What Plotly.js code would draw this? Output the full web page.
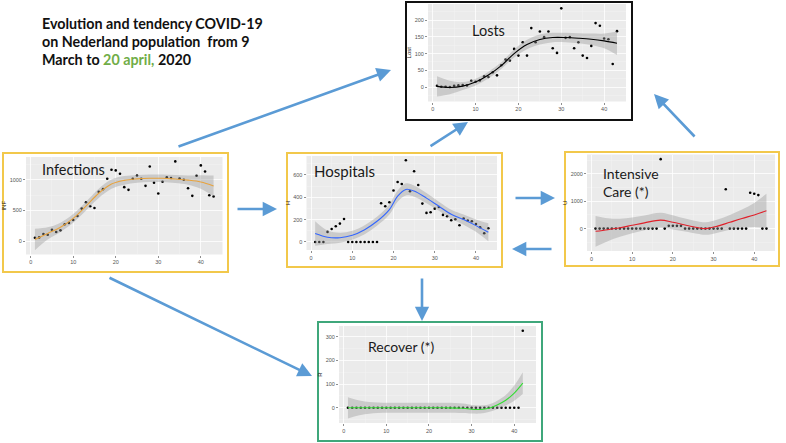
<!DOCTYPE html>
<html><head><meta charset="utf-8">
<script src="https://cdn.plot.ly/plotly-3.0.1.min.js"></script>
<style>html,body{margin:0;padding:0;background:#fff;} #chart{width:786px;height:443px;}</style>
</head><body><div id="chart"></div>
<script>
// ---------- DATA ----------
const days = [1,2,3,4,5,6,7,8,9,10,11,12,13,14,15,16,17,18,19,20,21,22,23,24,25,26,27,28,29,30,31,32,33,34,35,36,37,38,39,40,41,42,43];
const infections = [55,60,115,104,186,148,175,273,295,344,410,530,634,568,541,803,847,1016,1164,1153,1098,880,836,1016,1071,1016,901,1218,951,776,967,1040,1030,1300,1020,1000,863,738,1065,1235,1136,748,727];
const losts = [4,1,1,0,4,5,6,5,19,16,20,32,30,44,35,65,82,79,114,94,134,94,176,134,166,149,166,116,102,235,147,149,116,134,94,87,123,191,183,145,143,69,167];
const hospitals = [0,0,0,90,116,140,164,206,0,0,0,0,0,0,0,0,346,319,355,460,537,519,731,454,633,510,343,260,266,298,313,242,230,194,203,149,209,191,185,161,131,78,122];
const intensive = [0,0,0,0,0,0,0,0,0,0,0,0,0,0,0,0,2540,0,100,100,100,100,0,0,0,0,0,0,0,0,0,0,1440,0,0,0,0,0,1310,1275,1225,0,0];
const recoverDays = [1,2,3,4,5,6,7,8,9,10,11,12,13,14,15,16,17,18,19,20,21,22,23,24,25,26,27,28,29,30,31,32,33,34,35,36,37,38,39,40,41,42];
const recover = [0,0,0,0,0,0,0,0,0,0,0,0,0,0,0,0,0,0,0,0,0,0,0,0,0,0,0,0,0,0,0,0,0,0,0,0,0,0,0,0,0,325];

// smoothed trend (loess) and its confidence band
const infGrid = [1,4,7,10,13,16,19,22,25,28,31,34,37,40,43];
const infFit = [27,125,225,370,570,780,930,990,1015,1025,1025,1012,995,965,900];
const infLow = [-148,25,150,300,500,705,855,920,950,963,963,947,920,855,730];
const infHigh = [202,225,300,440,640,855,1005,1060,1080,1087,1087,1077,1070,1075,1070];

const lostGrid = [1,4,7,10,13,16,19,22,25,28,31,34,37,40,43];
const lostFit = [2,-1,3,15,36,64,100,127,142,148,148,146,143,138,131];
const lostLow = [-28,-21,-9,5,26,54,88,113,127,134,134,131,126,116,96];
const lostHigh = [32,19,15,25,46,74,112,141,157,162,162,161,160,160,166];

const hospGrid = [1,4,7,10,13,16,19,21,23,25,28,31,34,37,40,43];
const hospFit = [75,42,38,60,110,185,290,410,470,455,392,320,248,200,146,87];
const hospLow = [-35,-18,-7,20,70,145,245,360,415,405,347,280,208,155,91,7];
const hospHigh = [185,102,83,100,150,225,335,460,525,505,437,360,288,245,201,167];

const icGrid = [1,4,7,10,13,17,20,23,26,28,31,34,37,40,43];
const icFit = [-100,-40,30,120,210,310,230,130,40,0,90,230,370,500,650];
const icLow = [-660,-460,-300,-170,-60,40,-30,-110,-190,-230,-150,-40,40,60,30];
const icHigh = [460,380,360,410,480,580,490,370,270,230,330,500,700,940,1270];

const recGrid = [1,4,8,12,16,20,24,28,30,32,34,36,38,40,42];
const recFit = [0,0,0,0,0,0,0,-2,-6,-7,-2,12,32,62,104];
const recLow = [-45,-30,-22,-21,-21,-21,-21,-22,-24,-24,-18,-6,10,30,58];
const recHigh = [45,30,22,21,21,21,21,18,12,10,14,30,54,94,150];

const panelTitles = ['Infections','Losts','Hospitals','Intensive<br>Care (*)','Recover (*)'];
const yTitles = ['INF','Lost','H','U','R'];

// ---------- LAYOUT HELPERS ----------
const W = 786, H = 443;
const fx = p => p / W, fy = p => 1 - p / H;
const traces = [];
const layout = {
  width: W, height: H, margin: {l:0, r:0, t:0, b:0},
  paper_bgcolor: '#ffffff', plot_bgcolor: '#ebebeb',
  showlegend: false, shapes: [], annotations: [],
  font: {family: 'Liberation Sans, Arial, sans-serif'}
};

function addPanel(k, xs, ys, grid, low, high, fit, color, box, xr, yr, dy, ytitle) {
  const sx = k === 1 ? '' : String(k);
  const xa = 'x' + sx, ya = 'y' + sx;
  traces.push({x: xs, y: ys, xaxis: xa, yaxis: ya, type: 'scatter', mode: 'markers',
    marker: {color: '#000', size: 2.6}, hoverinfo: 'skip', cliponaxis: true});
  traces.push({x: grid, y: low, xaxis: xa, yaxis: ya, type: 'scatter', mode: 'lines',
    line: {width: 0, shape: 'spline'}, hoverinfo: 'skip'});
  traces.push({x: grid, y: high, xaxis: xa, yaxis: ya, type: 'scatter', mode: 'lines',
    fill: 'tonexty', fillcolor: 'rgba(153,153,153,0.4)', line: {width: 0, shape: 'spline'}, hoverinfo: 'skip'});
  traces.push({x: grid, y: fit, xaxis: xa, yaxis: ya, type: 'scatter', mode: 'lines',
    line: {color: color, width: 1.1, shape: 'spline'}, hoverinfo: 'skip'});
  const common = {showline: false, zeroline: false, ticks: 'outside', ticklen: 2, tickwidth: 0.6,
    tickcolor: '#444', tickfont: {size: 5.5, color: '#555'}, gridcolor: '#ffffff', gridwidth: 0.8,
    fixedrange: true, tickmode: 'linear', tick0: 0};
  layout['xaxis' + sx] = Object.assign({}, common, {domain: [fx(box[0]), fx(box[1])], range: xr,
    dtick: 10, anchor: ya, minor: {dtick: 5, showgrid: true, gridcolor: '#f6f6f6', gridwidth: 0.4}});
  layout['yaxis' + sx] = Object.assign({}, common, {domain: [fy(box[3]), fy(box[2])], range: yr,
    dtick: dy, anchor: xa, minor: {dtick: dy / 2, showgrid: true, gridcolor: '#f6f6f6', gridwidth: 0.4},
    title: {text: ytitle, font: {size: 6, color: '#222'}, standoff: 2}});
}

addPanel(1, days, infections, infGrid, infLow, infHigh, infFit, '#E8A33D', [26,222.5,157,254.5], [-1.1,45.1], [-219,1372], 500, yTitles[0]);
addPanel(2, days, losts, lostGrid, lostLow, lostHigh, lostFit, '#000000', [428,626,4,101.5], [-1.1,45.1], [-43,248], 50, yTitles[1]);
addPanel(3, days, hospitals, hospGrid, hospLow, hospHigh, hospFit, '#3366FF', [306.5,497,156,250], [-1.1,45.1], [-72,769], 200, yTitles[2]);
addPanel(4, days, intensive, icGrid, icLow, icHigh, icFit, '#E0202A', [587,775,154.5,251], [-1.1,45.1], [-820,2710], 1000, yTitles[3]);
addPanel(5, recoverDays, recover, recGrid, recLow, recHigh, recFit, '#33DD33', [339,536,326,423], [-1.1,45.1], [-64,345], 100, yTitles[4]);

// frames around each panel
function frame(b, color) {
  layout.shapes.push({type: 'rect', xref: 'paper', yref: 'paper', x0: fx(b[0]), x1: fx(b[1]),
    y0: fy(b[3]), y1: fy(b[2]), line: {color: color, width: 2}, fillcolor: 'rgba(0,0,0,0)'});
}
frame([406,632,2,120], '#111111');
frame([3,228,153,272], '#F2C84B');
frame([287,502,153,267], '#F2C84B');
frame([565,779,152,266], '#F2C84B');
frame([318,542,322,441], '#3FA77B');

// panel titles
function label(text, x, y, size, anchor) {
  layout.annotations.push({text: text, xref: 'paper', yref: 'paper', x: fx(x), y: fy(y),
    xanchor: anchor || 'center', yanchor: 'middle', showarrow: false, align: 'left',
    font: {family: 'Lato, sans-serif', size: size, color: '#1a1a1a'}});
}
label(panelTitles[0], 40, 169, 14.5, 'left');
label(panelTitles[1], 488, 31, 14.5);
label(panelTitles[2], 312, 171, 15, 'left');
label(panelTitles[3], 601, 182, 14, 'left');
label(panelTitles[4], 366, 346, 14, 'left');

// headline
function head(text, y) {
  layout.annotations.push({text: '<b>' + text + '</b>', xref: 'paper', yref: 'paper', x: fx(40), y: fy(y),
    xanchor: 'left', yanchor: 'middle', showarrow: false,
    font: {family: 'Lato, sans-serif', size: 14.3, color: '#111111'}});
}
head('Evolution and tendency COVID-19', 23);
head('on Nederland population&nbsp; from 9', 41.5);
head('March to <span style="color:#70AD47">20 april,</span> 2020', 60);

// arrows: [tail x, tail y, tip x, tip y]
const arrows = [[177,147,391,70],[429,147,468,122],[696,138,654,94],[236,209,277,209],
  [514,198,555,198],[553,249,512,249],[422,277,422,321],[108,277,312,376]];
arrows.forEach(a => layout.annotations.push({text: '', xref: 'paper', yref: 'paper',
  x: fx(a[2]), y: fy(a[3]), ax: a[0] - a[2], ay: a[1] - a[3], showarrow: true,
  arrowhead: 2, arrowsize: 1.1, arrowwidth: 2.6, arrowcolor: '#5B9BD5', standoff: 0, startstandoff: 0}));

Plotly.newPlot('chart', traces, layout, {staticPlot: true, displayModeBar: false});
</script></body></html>
